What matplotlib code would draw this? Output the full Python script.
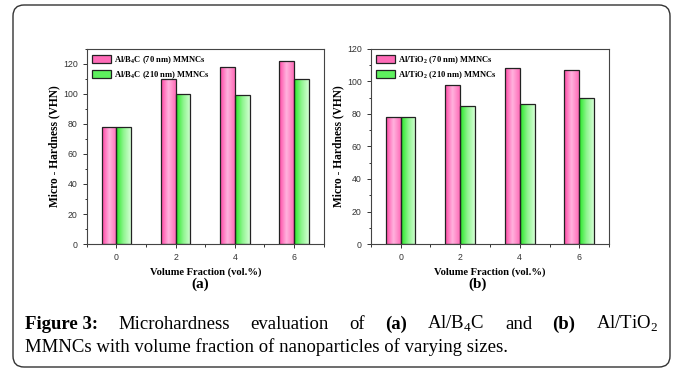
import matplotlib
matplotlib.use('Agg')
import matplotlib.pyplot as plt
import numpy as np
from matplotlib.colors import LinearSegmentedColormap
from matplotlib.patches import FancyBboxPatch
from matplotlib.ticker import MultipleLocator

plt.rcParams['mathtext.fontset'] = 'custom'
plt.rcParams['mathtext.rm'] = 'Liberation Serif'
plt.rcParams['mathtext.bf'] = 'Liberation Serif:bold'

# data
vol_frac = [0, 2, 4, 6]
b4c_70 = [78, 110, 118, 122]
b4c_210 = [78, 100, 99, 110]
tio2_70 = [78, 98, 108, 107]
tio2_210 = [78, 85, 86, 90]

labels_a = [r'Al/B$_\mathbf{4}$C (70 nm) MMNCs', r'Al/B$_\mathbf{4}$C (210 nm) MMNCs']
labels_b = [r'Al/TiO$_\mathbf{2}$ (70 nm) MMNCs', r'Al/TiO$_\mathbf{2}$ (210 nm) MMNCs']

pink = LinearSegmentedColormap.from_list('pink', ['#ff45a4', '#ffb3de', '#ff6cb8'])
green = LinearSegmentedColormap.from_list('green', ['#25e825', '#8ff58f', '#d4ffd4'])
grad = np.linspace(0, 1, 64).reshape(1, -1)


def grad_bars(ax, bars, cmap):
    for b in bars:
        x, y = b.get_x(), b.get_y()
        w, h = b.get_width(), b.get_height()
        im = ax.imshow(grad, cmap=cmap, aspect='auto', extent=[x, x + w, y, y + h], zorder=2)
        im.set_clip_path(b)
        b.set_facecolor('none')
        b.set_zorder(3)


fig = plt.figure(figsize=(6.73, 3.76), dpi=100)

# background frame + caption in pixel coords
bg = fig.add_axes([0, 0, 1, 1])
bg.set_xlim(0, 673)
bg.set_ylim(376, 0)
bg.axis('off')
bg.add_patch(FancyBboxPatch((13, 5), 657, 362, boxstyle='round,pad=0,rounding_size=11',
                            facecolor='none', edgecolor='#333333', lw=1.0))


def panel(rect, s70, s210, labels, ymax, tag, tagx):
    ax = fig.add_axes(rect)
    x = np.array(vol_frac)
    b1 = ax.bar(x - 0.25, s70, 0.5, edgecolor='#222222', lw=0.9, label=labels[0], color='#ff6cb8')
    b2 = ax.bar(x + 0.25, s210, 0.5, edgecolor='#222222', lw=0.9, label=labels[1], color='#5ef05e')
    leg = ax.legend(loc='upper left', frameon=False, handlelength=2.2, handleheight=1.1,
                    labelspacing=0.4, borderaxespad=0.25, handletextpad=0.35,
                    prop={'family': 'Liberation Serif', 'weight': 'bold', 'size': 6.1})
    grad_bars(ax, b1, pink)
    grad_bars(ax, b2, green)
    for h in leg.legend_handles:
        h.set_edgecolor('#222222')
    ax.set_xlim(-1, 7)
    ax.set_ylim(0, ymax)
    ax.set_xticks(vol_frac)
    ax.xaxis.set_minor_locator(MultipleLocator(1))
    ax.yaxis.set_major_locator(MultipleLocator(20))
    ax.yaxis.set_minor_locator(MultipleLocator(10))
    ax.tick_params(which='both', direction='out', labelsize=6.3, colors='#333333', width=0.7)
    ax.tick_params(which='major', length=3)
    ax.tick_params(which='minor', length=1.8)
    for lab in ax.get_xticklabels() + ax.get_yticklabels():
        lab.set_family('Liberation Sans')
    for s in ax.spines.values():
        s.set_linewidth(0.8)
        s.set_color('#444444')
    ax.set_xlabel('Volume Fraction (vol.%)', family='Liberation Serif', weight='bold', size=7.6, labelpad=4)
    ax.set_ylabel('Micro - Hardness (VHN)', family='Liberation Serif', weight='bold', size=8.3, labelpad=2)
    bg.text(tagx, 284, tag, family='Liberation Serif', weight='bold', size=11, ha='center', va='center')
    return ax


panel([0.129, 0.351, 0.352, 0.519], b4c_70, b4c_210, labels_a, 130, '(a)', 200)
panel([0.551, 0.351, 0.354, 0.519], tio2_70, tio2_210, labels_b, 120, '(b)', 478)

# caption, first line justified between the margins
cap_size = 13.5
line1 = [('Figure 3:', 'bold'), ('Microhardness', 'normal'), ('evaluation', 'normal'), ('of', 'normal'),
         ('(a)', 'bold'), (r'Al/B$_4$C', 'normal'), ('and', 'normal'), ('(b)', 'bold'),
         (r'Al/TiO$_2$', 'normal')]
x0, x1 = 25, 658
r = fig.canvas.get_renderer()
texts = []
for s, w in line1:
    t = bg.text(0, 329, s, family='Liberation Serif', weight=w, size=cap_size, ha='left', va='baseline')
    texts.append(t)
widths = []
for t in texts:
    bb = t.get_window_extent(renderer=r)
    widths.append(bb.width)
gap = (x1 - x0 - sum(widths)) / (len(texts) - 1)
pos = x0
for t, wd in zip(texts, widths):
    t.set_x(pos)
    pos += wd + gap
bg.text(x0, 352, 'MMNCs with volume fraction of nanoparticles of varying sizes.',
        family='Liberation Serif', size=cap_size, ha='left', va='baseline')

fig.savefig('out.png', dpi=100)
